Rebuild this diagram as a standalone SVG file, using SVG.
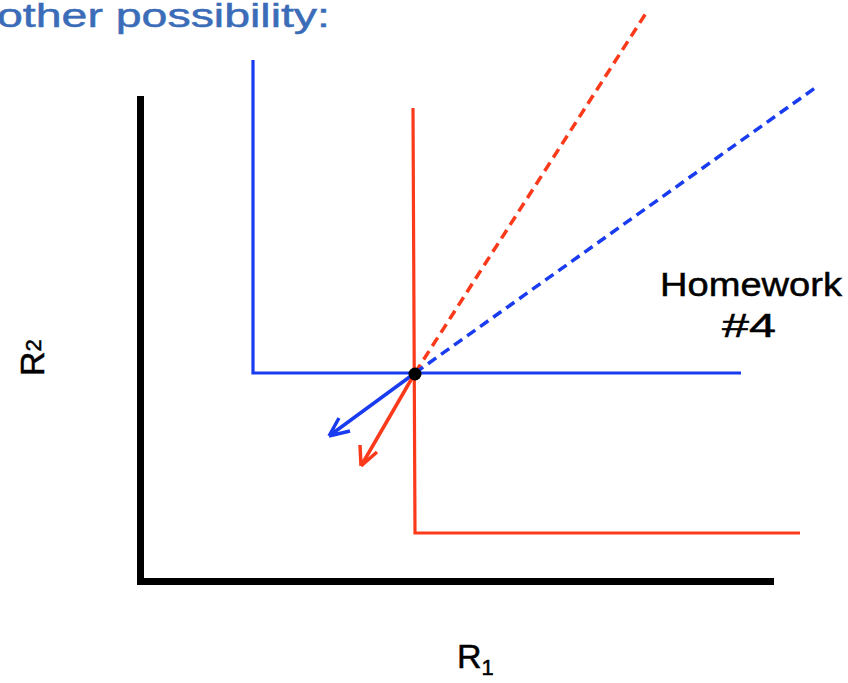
<svg xmlns="http://www.w3.org/2000/svg" width="848" height="683" viewBox="0 0 848 683">
<style>
.lbl{font-family:"Liberation Sans","DejaVu Sans",sans-serif;fill:#000;stroke:#000;stroke-width:0.5}
.blue{stroke:#1a3cf0;fill:none}
.red{stroke:#fa3a1a;fill:none}
</style>
<rect width="848" height="683" fill="#fff"/>
<text x="-3" y="27" font-family="Liberation Sans, sans-serif" font-size="34" fill="#3b6cb8" stroke="#3b6cb8" stroke-width="0.5" textLength="333" lengthAdjust="spacingAndGlyphs">other possibility:</text>
<g id="axes" stroke="#000" stroke-width="7" fill="none">
<path d="M140.5 96 V581.5 H774"/>
</g>
<g id="blue-curve"><path class="blue" stroke-width="3.2" d="M253 60 V373 H741"/></g>
<g id="red-curve"><path class="red" stroke-width="3.2" d="M413 108 L415 533 H800"/></g>
<g id="connectors">
<line class="red" stroke-width="3.5" stroke-dasharray="10,6" x1="415" y1="373" x2="648" y2="10"/>
<line class="blue" stroke-width="3.5" stroke-dasharray="10,6" x1="415" y1="373" x2="815" y2="88"/>
<path class="blue" stroke-width="3.5" d="M415 373 L329 436 M329 436 L350 431 M329 436 L339 418"/>
<path class="red" stroke-width="3.5" d="M415 373 L361 466 M361 466 L377 452 M361 466 L360 445"/>
</g>
<g id="point"><circle cx="415" cy="374" r="6.5" fill="#000"/></g>
<g id="homework">
<text class="lbl" x="660" y="296" font-size="34" textLength="182" lengthAdjust="spacingAndGlyphs">Homework</text>
<text class="lbl" x="722" y="337" font-size="34" textLength="54" lengthAdjust="spacingAndGlyphs">#4</text>
</g>
<g id="r2"><text class="lbl" font-size="34" transform="translate(44 376) rotate(-90)">R<tspan font-size="22" dy="-3">2</tspan></text></g>
<g id="r1"><text class="lbl" x="457" y="668" font-size="34">R<tspan font-size="22" dy="7">1</tspan></text></g>
</svg>
